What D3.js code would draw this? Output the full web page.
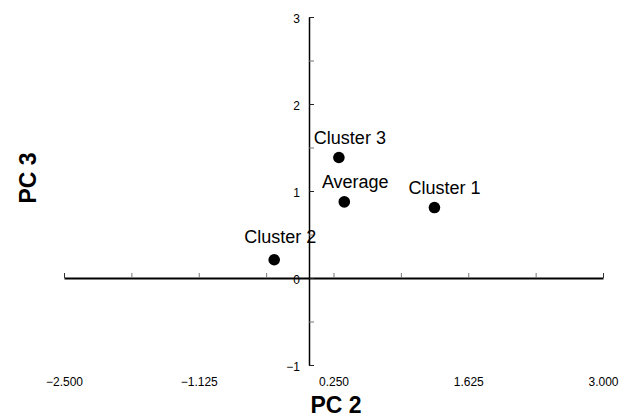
<!DOCTYPE html>
<html>
<head>
<meta charset="utf-8">
<script src="https://cdn.jsdelivr.net/npm/d3@7"></script>
<style>
  body { margin: 0; background: #fff; }
  svg { font-family: "Liberation Sans", Arial, sans-serif; }
</style>
</head>
<body>
<svg id="chart" width="620" height="418"></svg>
<script>
// data
const names = ["Cluster 3", "Average", "Cluster 1", "Cluster 2"];
const pc2 = [0.305, 0.36, 1.28, -0.355];
const pc3 = [1.385, 0.875, 0.81, 0.21];
const xTickLabels = [-2.5, -1.125, 0.25, 1.625, 3.0];
const yTickLabels = [-1, 0, 1, 2, 3];

// label nudges (layout only)
const labelDx = [11, 11, 10, 6];
const labelDy = [-14, -14, -14, -17];

const svg = d3.select("#chart");

const x = d3.scaleLinear().domain([-2.5, 3]).range([64, 603]);
const y = d3.scaleLinear().domain([-1, 3]).range([365, 17]);

const x0 = x(0), y0 = y(0);

// x axis: line through y=0, ticks pointing up
const xMinor = d3.range(0, 9).map(i => -2.5 + i * 0.6875);
const gx = svg.append("g").attr("transform", `translate(0,${y0})`)
  .call(d3.axisTop(x).tickValues(xMinor).tickSize(5).tickSizeOuter(0).tickFormat(""));
gx.select(".domain").attr("stroke", "#000").attr("stroke-width", 1.8);
gx.selectAll(".tick line").attr("stroke", "#777").attr("stroke-width", 1);
gx.selectAll(".tick").filter(d => d === -2.5 || d === 3).select("line").attr("stroke", "#333");

// x tick labels along the bottom
const gxl = svg.append("g").attr("transform", "translate(0,374)")
  .call(d3.axisBottom(x).tickValues(xTickLabels).tickSize(0).tickFormat(d3.format(".3f")));
gxl.select(".domain").remove();
gxl.selectAll("text").attr("font-size", 12).attr("fill", "#000")
  .attr("font-family", "'Liberation Sans', Arial, sans-serif");

// y axis: line through x=0, ticks pointing right
const yMinor = d3.range(0, 9).map(i => -1 + i * 0.5);
const gy = svg.append("g").attr("transform", `translate(${x0},0)`)
  .call(d3.axisRight(y).tickValues(yMinor).tickSize(5).tickSizeOuter(0).tickFormat(""));
gy.select(".domain").attr("stroke", "#000").attr("stroke-width", 1.5);
gy.selectAll(".tick line").attr("stroke", "#777").attr("stroke-width", 1);
gy.selectAll(".tick").filter(d => Number.isInteger(d)).select("line").attr("stroke", "#222");

const gyl = svg.append("g").attr("transform", `translate(${x0 - 6},2)`)
  .call(d3.axisLeft(y).tickValues(yTickLabels).tickSize(0).tickFormat(d3.format("d")));
gyl.select(".domain").remove();
gyl.selectAll("text").attr("font-size", 12).attr("fill", "#000")
  .attr("font-family", "'Liberation Sans', Arial, sans-serif");

// axis titles
svg.append("text")
  .attr("x", 336).attr("y", 413)
  .attr("text-anchor", "middle")
  .attr("font-size", 23).attr("font-weight", "bold")
  .text("PC 2");

svg.append("text")
  .attr("transform", "translate(36,178) rotate(-90)")
  .attr("text-anchor", "middle")
  .attr("font-size", 23).attr("font-weight", "bold")
  .text("PC 3");

// points
const pts = names.map((n, i) => ({ name: n, px: pc2[i], py: pc3[i], i }));

svg.append("g").selectAll("circle")
  .data(pts).join("circle")
  .attr("cx", d => x(d.px))
  .attr("cy", d => y(d.py))
  .attr("r", 5.8)
  .attr("fill", "#000");

svg.append("g").selectAll("text")
  .data(pts).join("text")
  .attr("x", d => x(d.px) + labelDx[d.i])
  .attr("y", d => y(d.py) + labelDy[d.i])
  .attr("text-anchor", "middle")
  .attr("font-size", 18)
  .text(d => d.name);
</script>
</body>
</html>
